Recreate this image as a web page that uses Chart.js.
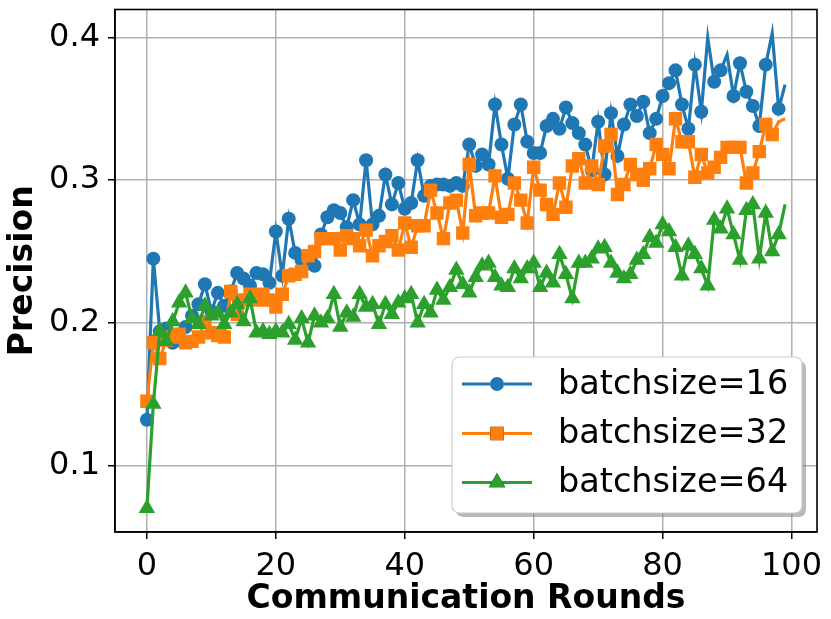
<!DOCTYPE html>
<html>
<head>
<meta charset="utf-8">
<script src="https://cdn.jsdelivr.net/npm/chart.js@4.4.1/dist/chart.umd.min.js"></script>
<style>
  html, body { margin: 0; padding: 0; background: #ffffff; }
  #wrap { width: 831px; height: 619px; }
</style>
</head>
<body>
<div id="wrap"><canvas id="c" width="831" height="619"></canvas></div>
<script>
// ---------------- DATA ----------------
const seriesLabels = ['batchsize=16', 'batchsize=32', 'batchsize=64'];

const bs16 = [
  0.132, 0.245, 0.194, 0.196, 0.186, 0.188, 0.197, 0.205, 0.213, 0.227,
  0.208, 0.221, 0.212, 0.222, 0.235, 0.231, 0.226, 0.235, 0.234, 0.228,
  0.264, 0.233, 0.273, 0.249, 0.244, 0.242, 0.240, 0.262, 0.274, 0.279,
  0.277, 0.267, 0.286, 0.269, 0.314, 0.269, 0.275, 0.304, 0.283, 0.298,
  0.280, 0.284, 0.314, 0.289, 0.296, 0.297, 0.297, 0.296, 0.298, 0.296,
  0.325, 0.310, 0.318, 0.311, 0.353, 0.325, 0.301, 0.339, 0.353, 0.327,
  0.319, 0.319, 0.338, 0.343, 0.336, 0.351, 0.340, 0.333, 0.325, 0.307,
  0.341, 0.304, 0.347, 0.317, 0.339, 0.353, 0.345, 0.355, 0.333, 0.343,
  0.359, 0.368, 0.377, 0.353, 0.336, 0.381, 0.348, 0.400, 0.369, 0.377,
  0.388, 0.359, 0.382, 0.362, 0.352, 0.338, 0.381, 0.403, 0.350, 0.367
];

const bs32 = [
  0.145, 0.186, 0.175, 0.188, 0.190, 0.192, 0.186, 0.187, 0.190, 0.201,
  0.193, 0.191, 0.190, 0.222, 0.206, 0.216, 0.220, 0.216, 0.220, 0.216,
  0.211, 0.220, 0.233, 0.234, 0.236, 0.247, 0.250, 0.259, 0.259, 0.259,
  0.251, 0.261, 0.259, 0.254, 0.265, 0.247, 0.254, 0.257, 0.261, 0.251,
  0.270, 0.253, 0.268, 0.268, 0.293, 0.277, 0.259, 0.284, 0.286, 0.263,
  0.311, 0.275, 0.277, 0.277, 0.303, 0.274, 0.276, 0.298, 0.286, 0.270,
  0.309, 0.293, 0.283, 0.276, 0.298, 0.281, 0.310, 0.315, 0.298, 0.310,
  0.297, 0.324, 0.332, 0.290, 0.297, 0.311, 0.304, 0.300, 0.308, 0.325,
  0.318, 0.308, 0.343, 0.327, 0.327, 0.302, 0.318, 0.305, 0.309, 0.316,
  0.323, 0.323, 0.323, 0.298, 0.305, 0.320, 0.339, 0.332, 0.341, 0.343
];

const bs64 = [
  0.070, 0.143, 0.194, 0.187, 0.201, 0.214, 0.221, 0.203, 0.199, 0.212,
  0.205, 0.207, 0.199, 0.207, 0.213, 0.201, 0.217, 0.193, 0.194, 0.192,
  0.194, 0.193, 0.199, 0.188, 0.203, 0.186, 0.205, 0.200, 0.203, 0.220,
  0.197, 0.207, 0.204, 0.220, 0.211, 0.213, 0.199, 0.213, 0.206, 0.214,
  0.217, 0.220, 0.200, 0.213, 0.207, 0.223, 0.216, 0.225, 0.237, 0.227,
  0.221, 0.232, 0.240, 0.242, 0.232, 0.226, 0.225, 0.238, 0.231, 0.238,
  0.242, 0.225, 0.235, 0.228, 0.248, 0.234, 0.217, 0.242, 0.242, 0.245,
  0.252, 0.253, 0.242, 0.235, 0.231, 0.234, 0.244, 0.248, 0.260, 0.256,
  0.269, 0.264, 0.253, 0.233, 0.254, 0.248, 0.238, 0.226, 0.272, 0.266,
  0.280, 0.262, 0.244, 0.279, 0.283, 0.245, 0.277, 0.250, 0.262, 0.283
];

const rounds = bs16.map((_, i) => i);        // communication round index 0..99
const xTickValues = [0, 20, 40, 60, 80, 100];
const yTickValues = [0.1, 0.2, 0.3, 0.4];
const xTitle = 'Communication Rounds';
const yTitle = 'Precision';

// rounds where the original figure shows no marker
const noMarker16 = [87, 90, 97, 99];
const noMarker32 = [98, 99];
const noMarker64 = [99];

// ---------------- STYLE ----------------
const colors = ['#1f77b4', '#ff7f0e', '#2ca02c'];
const styles = ['circle', 'rect', 'triangle'];
const radii = [7, 9.5, 9.5];
const LW = 3.2;
const FONT = "'DejaVu Sans', 'Liberation Sans', sans-serif";

// matplotlib-like axis margins (5%)
const allVals = bs16.concat(bs32, bs64);
const vMin = Math.min(...allVals), vMax = Math.max(...allVals);
const yPad = (vMax - vMin) * 0.05;
const xPad = (rounds[rounds.length - 1] - rounds[0]) * 0.05;

function makeDataset(label, values, idx, skip) {
  return {
    label: label,
    data: values.map((v, i) => ({ x: rounds[i], y: v })),
    borderColor: colors[idx],
    backgroundColor: colors[idx],
    borderWidth: LW,
    pointStyle: styles[idx],
    pointRadius: values.map((v, i) => skip.includes(i) ? 0 : radii[idx]),
    pointHoverRadius: radii[idx],
    pointBorderWidth: 0,
    tension: 0,
    order: 3 - idx
  };
}

function zeroPad(s) { s.paddingTop = 0; s.paddingBottom = 0; s.paddingLeft = 0; s.paddingRight = 0; }

const frameAndLegend = {
  id: 'frameAndLegend',
  afterDraw(chart) {
    const ctx = chart.ctx;
    const a = chart.chartArea;
    ctx.save();
    ctx.strokeStyle = '#000';
    ctx.lineWidth = 1.6;
    ctx.strokeRect(a.left, a.top, a.right - a.left, a.bottom - a.top);
    ctx.restore();

    const bx = 452, by = 357, bw = 350, bh = 156, r = 8;
    function rr(x, y, w, h) {
      ctx.beginPath();
      ctx.moveTo(x + r, y);
      ctx.lineTo(x + w - r, y);
      ctx.quadraticCurveTo(x + w, y, x + w, y + r);
      ctx.lineTo(x + w, y + h - r);
      ctx.quadraticCurveTo(x + w, y + h, x + w - r, y + h);
      ctx.lineTo(x + r, y + h);
      ctx.quadraticCurveTo(x, y + h, x, y + h - r);
      ctx.lineTo(x, y + r);
      ctx.quadraticCurveTo(x, y, x + r, y);
      ctx.closePath();
    }
    ctx.save();
    rr(bx + 4, by + 4, bw, bh);
    ctx.fillStyle = 'rgba(128,128,128,0.55)';
    ctx.fill();
    rr(bx, by, bw, bh);
    ctx.fillStyle = '#ffffff';
    ctx.fill();
    ctx.strokeStyle = '#cccccc';
    ctx.lineWidth = 1.2;
    ctx.stroke();

    const rowsY = [384, 433.5, 482.5];
    chart.data.datasets.forEach((ds, i) => {
      const y = rowsY[i];
      ctx.strokeStyle = ds.borderColor;
      ctx.lineWidth = LW;
      ctx.beginPath();
      ctx.moveTo(462, y);
      ctx.lineTo(532, y);
      ctx.stroke();
      Chart.helpers.drawPoint(ctx, {
        pointStyle: ds.pointStyle,
        radius: radii[i],
        rotation: 0,
        borderWidth: 0
      }, 497, y);
      ctx.fillStyle = ds.backgroundColor;
      ctx.fill();
      ctx.fillStyle = '#000';
      ctx.font = '33.5px ' + FONT;
      ctx.textBaseline = 'middle';
      ctx.textAlign = 'left';
      ctx.fillText(ds.label, 558, y + 1);
    });
    ctx.restore();
  }
};

new Chart(document.getElementById('c'), {
  type: 'line',
  data: {
    datasets: [
      makeDataset(seriesLabels[0], bs16, 0, noMarker16),
      makeDataset(seriesLabels[1], bs32, 1, noMarker32),
      makeDataset(seriesLabels[2], bs64, 2, noMarker64)
    ]
  },
  options: {
    responsive: false,
    animation: false,
    devicePixelRatio: 1,
    layout: { padding: { top: 8, right: 14, left: 0, bottom: 0 } },
    plugins: {
      legend: { display: false },
      tooltip: { enabled: false }
    },
    scales: {
      x: {
        type: 'linear',
        min: rounds[0] - xPad,
        max: rounds[rounds.length - 1] + xPad,
        bounds: 'data',
        afterBuildTicks: (s) => { s.ticks = xTickValues.map(v => ({ value: v })); },
        afterFit: (s) => { s.height = 87; zeroPad(s); },
        grid: { color: '#b0b0b0', lineWidth: 1.5, tickLength: 7, tickColor: '#000', drawOnChartArea: true },
        border: { display: true, color: '#000', width: 1.6 },
        ticks: { color: '#000', font: { family: FONT, size: 32 }, padding: 8, maxRotation: 0,
                 callback: (v) => String(v) },
        title: { display: true, text: xTitle, color: '#000',
                 font: { family: FONT, size: 33, weight: 'bold', lineHeight: 1.2 },
                 padding: { top: 0, bottom: 0 } }
      },
      y: {
        type: 'linear',
        min: vMin - yPad,
        max: vMax + yPad,
        bounds: 'data',
        afterBuildTicks: (s) => { s.ticks = yTickValues.map(v => ({ value: v })); },
        afterFit: (s) => { s.width = 115; zeroPad(s); },
        grid: { color: '#b0b0b0', lineWidth: 1.5, tickLength: 7, tickColor: '#000' },
        border: { display: true, color: '#000', width: 1.6 },
        ticks: { color: '#000', font: { family: FONT, size: 32 }, padding: 8,
                 callback: (v) => v.toFixed(1) },
        title: { display: true, text: yTitle, color: '#000',
                 font: { family: FONT, size: 33, weight: 'bold', lineHeight: 1.2 },
                 padding: { top: 4, bottom: 0 } }
      }
    }
  },
  plugins: [frameAndLegend]
});
</script>
</body>
</html>
